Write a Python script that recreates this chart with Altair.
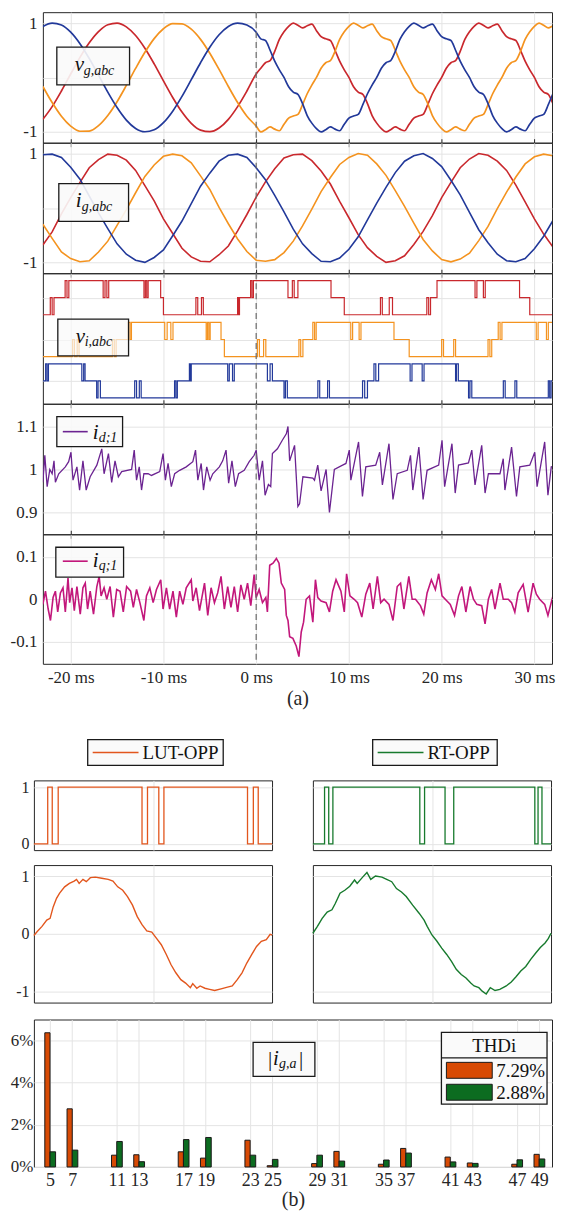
import altair as alt
import pandas as pd

FONT = "Liberation Serif"
INK = "#262626"
GRIDC = "#e4e4e4"
C_RED = "#c9282d"
C_ORANGE = "#f4931f"
C_BLUE = "#22399a"
C_PURPLE = "#6b2391"
C_MAGENTA = "#c2177b"
C_LUT = "#e2561d"
C_RT = "#177a2d"
C_BAR_LUT = "#d84a04"
C_BAR_RT = "#0c6c20"

# ------------------------------------------------------------------ data (a)
XT = [-20, -10, 0, 10, 20, 30]
T_PRE = [-23, -22, -21, -20, -19, -18, -17, -16, -15, -14, -13, -12, -11, -10,
         -9, -8, -7, -6, -5, -4, -3, -2, -1, 0]
T_POST = [0.5, 1.0, 1.5, 2.0, 2.5, 3.0, 3.5, 4.0, 4.5, 5.0, 5.5, 6.0, 6.5, 7.0,
          7.5, 8.0, 8.5, 9.0, 9.5, 10.0, 10.5, 11.0, 11.5, 12.0, 12.5, 13.0,
          13.5, 14.0, 14.5, 15.0, 15.5, 16.0, 16.5, 17.0, 17.5, 18.0, 18.5,
          19.0, 19.5, 20.0, 20.5, 21.0, 21.5, 22.0, 22.5, 23.0, 23.5, 24.0,
          24.5, 25.0, 25.5, 26.0, 26.5, 27.0, 27.5, 28.0, 28.5, 29.0, 29.5,
          30.0, 30.5, 31.0, 31.5, 32.0, 32.5, 33.0]

VG_RED_PRE = [-0.770, -0.536, -0.249, 0.063, 0.368, 0.637, 0.844, 0.969, 0.998, 0.930,
              0.770, 0.536, 0.249, -0.063, -0.368, -0.637, -0.844, -0.969, -0.998, -0.930,
              -0.770, -0.536, -0.249, 0.063]
VG_ORANGE_PRE = [-0.166, -0.462, -0.714, -0.895, -0.989, -0.986, -0.887, -0.700, -0.446, -0.147,
                 0.166, 0.462, 0.714, 0.895, 0.989, 0.986, 0.887, 0.700, 0.446, 0.147,
                 -0.166, -0.462, -0.714, -0.895]
VG_BLUE_PRE = [0.938, 0.999, 0.963, 0.832, 0.620, 0.348, 0.041, -0.270, -0.554, -0.784,
               -0.938, -0.999, -0.963, -0.832, -0.620, -0.348, -0.041, 0.270, 0.554, 0.784,
               0.938, 0.999, 0.963, 0.832]
VG_RED_POST = [0.17, 0.27, 0.31, 0.48, 0.70, 0.84, 0.94, 1.00, 0.96, 0.91, 0.95, 0.98, 0.86,
               0.75, 0.71, 0.68, 0.50, 0.30, 0.14, 0.00, -0.17, -0.27, -0.31, -0.48, -0.70,
               -0.84, -0.94, -1.00, -0.96, -0.91, -0.95, -0.98, -0.86, -0.75, -0.71, -0.68,
               -0.50, -0.30, -0.14, 0.00, 0.17, 0.27, 0.31, 0.48, 0.70, 0.84, 0.94, 1.00,
               0.96, 0.91, 0.95, 0.98, 0.86, 0.75, 0.71, 0.68, 0.50, 0.30, 0.14, 0.00,
               -0.17, -0.27, -0.31, -0.48, -0.70, -0.84]
VG_ORANGE_POST = [-1.00, -0.96, -0.91, -0.95, -0.98, -0.86, -0.75, -0.71, -0.68, -0.50,
                  -0.30, -0.14, 0.00, 0.17, 0.27, 0.31, 0.48, 0.70, 0.84, 0.94, 1.00, 0.96,
                  0.91, 0.95, 0.98, 0.86, 0.75, 0.71, 0.68, 0.50, 0.30, 0.14, 0.00, -0.17,
                  -0.27, -0.31, -0.48, -0.70, -0.84, -0.94, -1.00, -0.96, -0.91, -0.95,
                  -0.98, -0.86, -0.75, -0.71, -0.68, -0.50, -0.30, -0.14, 0.00, 0.17, 0.27,
                  0.31, 0.48, 0.70, 0.84, 0.94, 1.00, 0.96, 0.91, 0.95, 0.98, 0.86]
VG_BLUE_POST = [0.71, 0.68, 0.50, 0.30, 0.14, 0.00, -0.17, -0.27, -0.31, -0.48, -0.70, -0.84,
                -0.94, -1.00, -0.96, -0.91, -0.95, -0.98, -0.86, -0.75, -0.71, -0.68, -0.50,
                -0.30, -0.14, 0.00, 0.17, 0.27, 0.31, 0.48, 0.70, 0.84, 0.94, 1.00, 0.96,
                0.91, 0.95, 0.98, 0.86, 0.75, 0.71, 0.68, 0.50, 0.30, 0.14, 0.00, -0.17,
                -0.27, -0.31, -0.48, -0.70, -0.84, -0.94, -1.00, -0.96, -0.91, -0.95, -0.98,
                -0.86, -0.75, -0.71, -0.68, -0.50, -0.30, -0.14, 0.00]

T_I = [-23, -22, -21, -20, -19, -18, -17, -16, -15, -14, -13, -12, -11, -10, -9, -8, -7,
       -6, -5, -4, -3, -2, -1, 0, 1, 2, 3, 4, 5, 6, 7, 8, 9, 10, 11, 12, 13, 14, 15, 16,
       17, 18, 19, 20, 21, 22, 23, 24, 25, 26, 27, 28, 29, 30, 31, 32, 33]
IG_RED = [-0.68, -0.44, -0.11, 0.19, 0.47, 0.74, 0.89, 0.99, 0.97, 0.88,
          0.69, 0.41, 0.13, -0.20, -0.47, -0.74, -0.90, -0.98, -0.99, -0.86,
          -0.70, -0.42, -0.12, 0.20, 0.48, 0.72, 0.92, 0.98, 0.99, 0.87,
          0.68, 0.44, 0.12, -0.18, -0.49, -0.73, -0.89, -1.00, -0.97, -0.88,
          -0.67, -0.43, -0.14, 0.19, 0.47, 0.74, 0.90, 1.00, 0.97, 0.86,
          0.69, 0.42, 0.11, -0.20, -0.48, -0.72, -0.91]
IG_ORANGE = [-0.30, -0.56, -0.81, -0.93, -0.99, -0.97, -0.81, -0.61, -0.32, -0.03,
             0.28, 0.58, 0.79, 0.95, 0.99, 0.96, 0.83, 0.59, 0.34, 0.01,
             -0.29, -0.57, -0.80, -0.96, -0.98, -0.95, -0.82, -0.61, -0.33, -0.02,
             0.30, 0.56, 0.80, 0.93, 1.00, 0.97, 0.81, 0.60, 0.32, 0.03,
             -0.28, -0.58, -0.79, -0.95, -0.99, -0.94, -0.83, -0.60, -0.34, -0.01,
             0.29, 0.57, 0.81, 0.94, 0.99, 0.96, 0.82]
IG_BLUE = [0.98, 0.99, 0.93, 0.75, 0.53, 0.22, -0.09, -0.38, -0.66, -0.85,
           -0.96, -1.00, -0.91, -0.77, -0.51, -0.24, 0.08, 0.40, 0.64, 0.86,
           0.97, 0.99, 0.93, 0.74, 0.52, 0.23, -0.07, -0.39, -0.66, -0.84,
           -0.98, -0.99, -0.92, -0.76, -0.53, -0.22, 0.09, 0.38, 0.65, 0.86,
           0.96, 1.00, 0.91, 0.76, 0.51, 0.24, -0.08, -0.40, -0.64, -0.85,
           -0.97, -0.99, -0.93, -0.75, -0.52, -0.23, 0.08]

VI_RED_T = [-23, -22.2, -22.0, -21.8, -20.6, -20.4, -20.2, -16.5, -16.3, -16.1, -15.9,
            -12.1, -11.95, -11.8, -11.65, -10.3, -10.0, -6.5, -6.3, -5.9, -5.7, -2.0,
            -1.9, -1.8, -0.6, -0.45, -0.3, 3.43, 3.9, 4.1, 4.5, 8.07, 9.5, 13.4, 13.6,
            14.35, 14.7, 18.4, 18.6, 18.8, 19.5, 23.6, 23.8, 24.5, 24.7, 28.4, 29.5, 33]
VI_RED_L = [-1, 0, -1, 0, 1, 0, 1, 0, 1, 0, 1, 0, 1, 0, 1, 0, -1, 0, -1, 0, -1, 0, -1, 0,
            1, 0, 1, 0, 1, 0, 1, 0, -1, 0, -1, 0, -1, 0, -1, 0, 1, 0, 1, 0, 1, 0, -1, -1]
VI_ORANGE_T = [-23, -19.8, -19.6, -19.3, -19.1, -15.5, -15.3, -15.1, -13.8, -13.6, -13.45,
               -9.86, -9.6, -9.2, -8.97, -5.39, -5.25, -5.1, -4.96, -3.79, -3.43, 0.14,
               0.35, 0.8, 1.04, 4.61, 4.8, 5.04, 6.11, 6.3, 6.47, 10.2, 10.4, 11.1, 11.3,
               14.86, 16.5, 20.0, 20.2, 21.3, 21.5, 25.0, 25.2, 25.4, 26.1, 26.3, 26.5,
               30.2, 30.4, 31.3, 31.5, 33]
VI_ORANGE_L = [-1, 0, -1, 0, -1, 0, -1, 0, 1, 0, 1, 0, 1, 0, 1, 0, 1, 0, 1, 0, -1, 0, -1,
               0, -1, 0, -1, 0, 1, 0, 1, 0, 1, 0, 1, 0, -1, 0, -1, 0, -1, 0, -1, 0, 1, 0,
               1, 0, 1, 0, 1, 1]
VI_BLUE_T = [-23, -22.7, -22.55, -22.4, -18.8, -18.6, -18.45, -17.2, -17.05, -16.8, -13.1,
             -12.9, -12.6, -12.4, -8.8, -8.65, -8.5, -7.2, -7.1, -7.0, -3.07, -2.9, -2.55,
             -2.36, 1.21, 1.5, 1.75, 3.0, 3.15, 3.36, 6.65, 6.85, 7.7, 7.9, 11.47, 11.7,
             12.0, 12.7, 12.9, 13.2, 16.6, 16.8, 17.9, 18.1, 21.5, 21.6, 21.8, 22.9, 23.05,
             23.25, 26.65, 26.85, 27.9, 28.1, 31.5, 31.65, 31.8, 32.7, 33]
VI_BLUE_L = [0, 1, 0, 1, 0, 1, 0, -1, 0, -1, 0, -1, 0, -1, 0, -1, 0, 1, 0, 1, 0, 1, 0, 1,
             0, 1, 0, -1, 0, -1, 0, -1, 0, -1, 0, -1, 0, 1, 0, 1, 0, 1, 0, 1, 0, 1, 0, -1,
             0, -1, 0, -1, 0, -1, 0, -1, 0, 1, 1]

ID_T = [-23.0, -22.79, -22.54, -22.25, -22.0, -21.8, -21.65, -21.29, -20.58, -20.22, -19.97,
        -19.75, -19.33, -19.04, -18.68, -18.33, -17.9, -17.18, -16.65, -16.4, -15.93, -15.58,
        -15.22, -14.86, -14.5, -13.43, -13.15, -12.9, -12.61, -12.36, -12.11, -11.65, -11.29,
        -10.4, -10.04, -9.79, -9.5, -9.15, -8.79, -8.25, -7.54, -6.83, -6.54, -6.29, -5.93,
        -5.68, -5.33, -4.97, -4.68, -3.97, -3.61, -3.25, -2.97, -2.61, -2.25, -1.9, -1.29,
        -0.75, -0.22, 0.0, 0.32, 0.68, 0.96, 1.32, 1.57, 1.75, 2.29, 2.82, 3.25, 3.43, 3.61,
        4.14, 4.5, 4.68, 5.04, 6.11, 6.29, 6.64, 7.0, 7.54, 7.9, 8.43, 9.32, 9.68, 10.04,
        10.21, 11.04, 11.46, 11.82, 12.89, 13.32, 13.61, 14.32, 14.75, 15.21, 16.29, 16.64,
        16.89, 17.54, 18.0, 18.43, 19.68, 20.04, 20.32, 21.11, 21.46, 21.82, 22.89, 23.25,
        23.6, 24.32, 24.68, 25.04, 26.29, 26.64, 26.82, 27.54, 28.07, 28.43, 29.5, 30.04,
        30.29, 31.11, 31.46, 31.82, 32.89, 33.0]
ID_V = [0.97, 1.033, 0.96, 1.0, 0.99, 1.02, 0.97, 0.99, 1.006, 1.018, 1.04, 0.975, 1.006,
        0.952, 1.02, 0.952, 0.983, 1.01, 1.048, 0.99, 1.037, 0.97, 1.02, 0.983, 0.995, 1.0,
        1.045, 0.975, 1.006, 0.952, 0.99, 0.99, 0.986, 0.995, 1.037, 0.975, 1.014, 0.96,
        0.99, 0.998, 1.006, 1.018, 1.045, 0.975, 1.014, 0.952, 1.006, 0.975, 0.99, 1.006,
        1.02, 1.045, 0.968, 1.02, 0.96, 0.99, 0.998, 1.018, 1.033, 1.045, 0.975, 1.02, 0.94,
        0.965, 0.96, 1.037, 1.048, 1.068, 1.083, 1.10, 1.02, 1.056, 0.914, 0.92, 0.983, 0.98,
        0.975, 1.01, 0.95, 1.0, 0.90, 1.0, 1.01, 1.014, 1.045, 0.975, 1.064, 0.937, 1.006,
        1.01, 1.04, 0.964, 1.06, 0.93, 0.99, 0.998, 1.033, 0.952, 1.052, 0.93, 0.998, 1.01,
        1.068, 0.96, 1.06, 0.945, 1.01, 1.015, 1.045, 0.964, 1.056, 0.945, 0.99, 0.99, 1.025,
        0.952, 1.052, 0.937, 1.006, 1.01, 1.04, 0.96, 1.064, 0.94, 1.006, 1.01, 1.01]

IQ_T = [-23.0, -22.72, -22.43, -22.18, -21.9, -21.65, -21.4, -21.11, -20.83, -20.58, -20.29,
        -20.11, -19.86, -19.61, -19.33, -18.97, -18.68, -18.43, -18.18, -17.9, -17.54, -17.18,
        -16.93, -16.72, -16.4, -16.11, -15.75, -15.4, -15.04, -14.68, -14.33, -13.97, -13.54,
        -13.25, -12.9, -12.54, -12.11, -11.83, -11.47, -11.11, -10.75, -10.29, -10.04, -9.68,
        -9.33, -8.97, -8.61, -8.25, -7.9, -7.54, -7.0, -6.83, -6.47, -6.11, -5.57, -5.22,
        -4.86, -4.5, -4.15, -3.79, -3.43, -3.07, -2.72, -2.36, -2.0, -1.65, -1.29, -0.93,
        -0.58, -0.22, 0.0, 0.32, 0.68, 1.04, 1.21, 1.46, 1.82, 2.18, 2.46, 2.71, 3.07, 3.25,
        3.43, 3.61, 3.96, 4.32, 4.61, 4.86, 5.11, 5.39, 5.75, 6.11, 6.39, 6.64, 7.0, 7.54,
        7.9, 8.25, 8.61, 9.14, 9.5, 9.75, 10.11, 10.57, 10.93, 11.39, 11.82, 12.25, 12.61,
        13.07, 13.43, 13.79, 14.32, 14.75, 15.21, 15.57, 15.93, 16.46, 16.82, 17.18, 17.71,
        18.07, 18.43, 18.89, 19.32, 19.68, 20.04, 20.57, 20.93, 21.39, 21.82, 22.18, 22.61,
        23.07, 23.43, 23.79, 24.32, 24.68, 25.04, 25.39, 25.75, 26.29, 26.64, 27.18, 27.54,
        27.89, 28.25, 28.79, 29.32, 29.86, 30.21, 30.57, 31.11, 31.46, 32.0, 32.36, 32.71, 33.0]
IQ_V = [-0.012, 0.019, -0.023, -0.05, 0.004, 0.019, -0.03, 0.015, 0.027, -0.03, 0.05, -0.008,
        0.027, -0.027, 0.03, -0.035, 0.027, 0.038, -0.023, 0.019, -0.035, 0.03, 0.054, 0.008,
        0.027, 0.0, 0.03, -0.042, 0.023, 0.019, -0.03, 0.03, 0.019, -0.019, 0.023, -0.008,
        -0.05, 0.008, 0.027, -0.008, 0.023, 0.046, -0.023, 0.027, -0.023, 0.019, -0.042,
        0.019, -0.012, 0.027, 0.046, -0.004, 0.027, -0.027, 0.038, -0.038, 0.027, -0.008,
        0.015, 0.054, -0.023, 0.03, -0.019, 0.03, -0.03, 0.034, 0.0, 0.038, -0.015, 0.058,
        0.004, 0.023, -0.008, 0.004, -0.03, 0.08, 0.085, 0.096, 0.085, 0.038, 0.023, -0.038,
        -0.05, -0.088, -0.092, -0.11, -0.135, -0.077, -0.054, 0.0, 0.008, -0.054, 0.046,
        0.004, -0.004, -0.008, -0.03, 0.019, 0.046, 0.019, -0.03, 0.06, 0.008, 0.0, -0.008,
        -0.042, 0.012, 0.038, -0.023, 0.054, -0.008, 0.0, -0.012, -0.05, 0.03, 0.038, -0.023,
        0.054, 0.0, 0.0, -0.015, -0.035, 0.015, 0.046, 0.023, 0.06, 0.008, -0.004, -0.012,
        -0.038, 0.008, 0.03, -0.03, 0.03, 0.0, -0.012, -0.015, -0.058, 0.0, 0.023, -0.023,
        0.038, 0.0, 0.0, -0.008, -0.03, 0.015, 0.035, -0.03, 0.038, 0.012, 0.0, -0.012,
        -0.038, 0.008, 0.019, -0.038, -0.015]

# ------------------------------------------------------------------ data (b)
SW_LUT_F = [0, 0.058, 0.077, 0.102, 0.454, 0.477, 0.5245, 0.546, 0.897, 0.9215, 0.942, 1.0]
SW_LUT_S = [0, 1, 0, 1, 0, 1, 0, 1, 0, 1, 0, 0]
SW_RT_F = [0, 0.049, 0.0665, 0.084, 0.449, 0.469, 0.555, 0.5915, 0.932, 0.9455, 0.962, 1.0]
SW_RT_S = [0, 1, 0, 1, 0, 1, 0, 1, 0, 1, 0, 0]

LUT_I_F = [0, 0.014, 0.034, 0.054, 0.068, 0.081, 0.095, 0.108, 0.129, 0.149, 0.169, 0.179,
           0.19, 0.206, 0.22, 0.237, 0.258, 0.285, 0.312, 0.332, 0.352, 0.373, 0.393, 0.414,
           0.434, 0.454, 0.474, 0.495, 0.515, 0.535, 0.556, 0.576, 0.596, 0.617, 0.637,
           0.657, 0.667, 0.684, 0.698, 0.718, 0.738, 0.759, 0.786, 0.813, 0.833, 0.854,
           0.874, 0.894, 0.915, 0.935, 0.955, 0.976, 0.992, 1.0]
LUT_I_V = [-0.03, 0.04, 0.13, 0.24, 0.27, 0.47, 0.62, 0.71, 0.82, 0.88, 0.92, 0.95, 0.88,
           0.95, 0.91, 0.98, 0.99, 0.97, 0.95, 0.92, 0.82, 0.76, 0.65, 0.50, 0.30, 0.16,
           0.05, 0.03, -0.08, -0.19, -0.36, -0.54, -0.68, -0.80, -0.86, -0.94, -0.87, -0.95,
           -0.91, -0.95, -0.97, -0.99, -0.96, -0.93, -0.91, -0.80, -0.68, -0.51, -0.36,
           -0.22, -0.13, -0.10, -0.01, -0.02]
RT_I_F = [0, 0.019, 0.039, 0.06, 0.08, 0.094, 0.114, 0.134, 0.155, 0.175, 0.186, 0.209,
          0.227, 0.243, 0.263, 0.29, 0.31, 0.331, 0.351, 0.372, 0.392, 0.419, 0.446, 0.467,
          0.48, 0.5, 0.521, 0.541, 0.562, 0.582, 0.602, 0.623, 0.643, 0.663, 0.677, 0.697,
          0.711, 0.728, 0.745, 0.765, 0.785, 0.812, 0.833, 0.853, 0.873, 0.894, 0.914,
          0.935, 0.955, 0.975, 0.989, 1.0]
RT_I_V = [0.01, 0.13, 0.27, 0.38, 0.42, 0.53, 0.71, 0.76, 0.83, 0.94, 0.88, 0.99, 1.07,
          0.95, 1.01, 0.99, 0.95, 0.91, 0.79, 0.73, 0.65, 0.50, 0.36, 0.24, 0.13, -0.02,
          -0.13, -0.25, -0.36, -0.48, -0.62, -0.71, -0.77, -0.86, -0.91, -0.94, -1.00,
          -1.05, -0.94, -0.99, -0.97, -0.91, -0.84, -0.75, -0.65, -0.57, -0.45, -0.34,
          -0.24, -0.16, -0.08, 0.01]

HARM = [5, 7, 11, 13, 17, 19, 23, 25, 29, 31, 35, 37, 41, 43, 47, 49]
LUT_PCT = [6.37, 2.76, 0.56, 0.58, 0.72, 0.42, 1.27, 0.06, 0.16, 0.74, 0.13, 0.88, 0.47,
           0.19, 0.13, 0.60]
RT_PCT = [0.72, 0.80, 1.21, 0.25, 1.30, 1.40, 0.56, 0.36, 0.56, 0.28, 0.33, 0.66, 0.24,
          0.17, 0.34, 0.38]
THD_LABELS = ["7.29%", "2.88%"]


# ------------------------------------------------------------------ helpers
def rows(ts, vs, **extra):
    assert len(ts) == len(vs), (len(ts), len(vs))
    return [dict(t=a, v=b, **extra) for a, b in zip(ts, vs)]


ONE = alt.Data(values=[{"k": 0}])
XS = alt.Scale(domain=[-23, 31.9], nice=False, zero=False)
PH_SCALE = alt.Scale(domain=["a", "b", "c"], range=[C_RED, C_ORANGE, C_BLUE])
EXPR_INT = "datum.value == 0 ? '' : (datum.value < 0 ? '-' : '') + abs(datum.value)"


def x_axis(orient, grid=False, labels=False, ticks=True, title=None):
    kw = dict(orient=orient, values=XT, grid=grid, labels=labels, ticks=ticks,
              domain=False, title=title, labelFont=FONT, titleFont=FONT)
    if ticks:
        kw.update(tickSize=4, tickColor=INK, tickWidth=1)
    if labels:
        kw.update(labelExpr="(datum.value < 0 ? '-' : '') + abs(datum.value) + ' ms'",
                  labelFontSize=17, labelPadding=6, titleFontSize=20, titlePadding=3)
    return alt.Axis(**kw)


def y_axis(values, expr=None, size=17, labels=True, pad=6):
    kw = dict(values=values, grid=True, ticks=False, domain=False, title=None,
              labels=labels, labelFontSize=size, labelPadding=pad, labelFont=FONT)
    if expr:
        kw["labelExpr"] = expr
    return alt.Axis(**kw)


def box(x0, x1, y0, y1, op=0.9):
    return alt.Chart(ONE).mark_rect(fill="#fafafa", fillOpacity=op, stroke="#1a1a1a",
                                    strokeWidth=1.3).encode(
        x=alt.value(x0), x2=alt.value(x1), y=alt.value(y0), y2=alt.value(y1))


def txt(s, x, y, size, italic=True, align="left"):
    return alt.Chart(ONE).mark_text(text=s, font=FONT, fontSize=size, align=align,
                                    fontStyle="italic" if italic else "normal",
                                    baseline="alphabetic", color="#111111").encode(
        x=alt.value(x), y=alt.value(y))


def hline(x0, x1, y, color, w=1.6):
    return alt.Chart(ONE).mark_rule(color=color, strokeWidth=w).encode(
        x=alt.value(x0), x2=alt.value(x1), y=alt.value(y))


def zero_rule(top=True):
    ax = x_axis("top") if top else None
    return alt.Chart(alt.Data(values=[{"t": 0}])).mark_rule(
        strokeDash=[6, 4], color="#6a6a6a", strokeWidth=1.2).encode(
        x=alt.X("t:Q", scale=XS, axis=ax))


def spacer():
    return alt.Chart(ONE).mark_rule(opacity=0).encode(
        x=alt.value(0), y=alt.value(0), y2=alt.value(1)
    ).properties(width=1, height=1, view=alt.ViewBackground(strokeOpacity=0))


W_A = 511

# ------------------------------------------------------------------ panel 1
df_vg = pd.DataFrame(
    rows(T_PRE, VG_RED_PRE, ph="a") + rows(T_POST, VG_RED_POST, ph="a")
    + rows(T_PRE, VG_ORANGE_PRE, ph="b") + rows(T_POST, VG_ORANGE_POST, ph="b")
    + rows(T_PRE, VG_BLUE_PRE, ph="c") + rows(T_POST, VG_BLUE_POST, ph="c"))
p1_lines = alt.Chart(df_vg).mark_line(strokeWidth=1.7, interpolate="monotone", clip=True).encode(
    x=alt.X("t:Q", scale=XS, axis=x_axis("bottom", grid=True)),
    y=alt.Y("v:Q", scale=alt.Scale(domain=[-1.2, 1.2], nice=False, zero=False),
            axis=y_axis([-1, 0, 1], EXPR_INT)),
    color=alt.Color("ph:N", scale=PH_SCALE, legend=None))
P1 = alt.layer(p1_lines, zero_rule(top=False), box(14, 87, 35, 73),
               txt("v", 32, 59, 21), txt("g,abc", 41, 63, 14)
               ).resolve_axis(x="independent").properties(width=W_A, height=131)

# ------------------------------------------------------------------ panel 2
df_ig = pd.DataFrame(rows(T_I, IG_RED, ph="a") + rows(T_I, IG_ORANGE, ph="b")
                     + rows(T_I, IG_BLUE, ph="c"))
p2_lines = alt.Chart(df_ig).mark_line(strokeWidth=1.6, clip=True).encode(
    x=alt.X("t:Q", scale=XS, axis=x_axis("bottom", grid=True)),
    y=alt.Y("v:Q", scale=alt.Scale(domain=[-1.2, 1.2], nice=False, zero=False),
            axis=y_axis([-1, 0, 1], EXPR_INT)),
    color=alt.Color("ph:N", scale=PH_SCALE, legend=None))
P2 = alt.layer(p2_lines, zero_rule(), box(16, 86, 41, 79),
               txt("i", 33, 65, 21), txt("g,abc", 39, 69, 14)
               ).resolve_axis(x="independent").properties(width=W_A, height=131)

# ------------------------------------------------------------------ panel 3
VI_OFFSET = {"a": 2.45, "b": 0.0, "c": -2.42}
vi_rows = (rows(VI_RED_T, VI_RED_L, ph="a") + rows(VI_ORANGE_T, VI_ORANGE_L, ph="b")
           + rows(VI_BLUE_T, VI_BLUE_L, ph="c"))
df_vi = pd.DataFrame(vi_rows)
df_vi["y"] = df_vi["v"] + df_vi["ph"].map(VI_OFFSET)
p3_lines = alt.Chart(df_vi).mark_line(strokeWidth=1.2, interpolate="step-after", clip=True).encode(
    x=alt.X("t:Q", scale=XS, axis=x_axis("bottom", grid=True)),
    y=alt.Y("y:Q", scale=alt.Scale(domain=[-3.76, 3.88], nice=False, zero=False),
            axis=y_axis([2.45, 0, -2.42], labels=False)),
    color=alt.Color("ph:N", scale=PH_SCALE, legend=None))
P3 = alt.layer(p3_lines, zero_rule(), box(15, 86, 46, 83, op=0.7),
               txt("v", 33, 70, 21), txt("i,abc", 42, 73, 14)
               ).resolve_axis(x="independent").properties(width=W_A, height=131)

# ------------------------------------------------------------------ panel 4
df_id = pd.DataFrame(rows(ID_T, ID_V))
p4_line = alt.Chart(df_id).mark_line(strokeWidth=1.3, color=C_PURPLE, clip=True).encode(
    x=alt.X("t:Q", scale=XS, axis=x_axis("bottom", grid=True)),
    y=alt.Y("v:Q", scale=alt.Scale(domain=[0.849, 1.153], nice=False, zero=False),
            axis=y_axis([0.9, 1.0, 1.1],
                        "datum.value == 1 ? '1' : format(datum.value, '.1f')")))
P4 = alt.layer(p4_line, zero_rule(), box(14, 80, 13, 43), hline(20, 45, 28, C_PURPLE),
               txt("i", 50, 35, 21), txt("d;1", 56, 38, 14)
               ).resolve_axis(x="independent").properties(width=W_A, height=131)

# ------------------------------------------------------------------ panel 5
df_iq = pd.DataFrame(rows(IQ_T, IQ_V))
p5_line = alt.Chart(df_iq).mark_line(strokeWidth=1.6, color=C_MAGENTA, clip=True).encode(
    x=alt.X("t:Q", scale=XS, axis=x_axis("bottom", grid=True, labels=True, ticks=False,
                                          title="(a)")),
    y=alt.Y("v:Q", scale=alt.Scale(domain=[-0.152, 0.153], nice=False, zero=False),
            axis=y_axis([-0.1, 0, 0.1],
                        "datum.value == 0 ? '0' : (datum.value < 0 ? '-' : '') + format(abs(datum.value), '.1f')")))
P5 = alt.layer(p5_line, zero_rule(), box(13, 81, 13, 43), hline(20, 45, 27, C_MAGENTA),
               txt("i", 50, 33, 21), txt("q;1", 56, 36, 14)
               ).resolve_axis(x="independent").properties(width=W_A, height=130)

PART_A = alt.vconcat(P1, P2, P3, P4, P5, spacing=0, bounds="flush")

# ------------------------------------------------------------------ part (b) panels
FS = alt.Scale(domain=[0, 1], nice=False, zero=False)
EXPR_PLAIN = "(datum.value < 0 ? '-' : '') + abs(datum.value)"
W_B = 239


def f_axis():
    return alt.Axis(values=[0.5], grid=True, labels=False, ticks=False, domain=False, title=None)


def switch_panel(fs, ss, color, left, name, lx0, lx1, tx):
    df = pd.DataFrame({"f": fs, "s": ss})
    line = alt.Chart(df).mark_line(interpolate="step-after", color=color, strokeWidth=1.3).encode(
        x=alt.X("f:Q", scale=FS, axis=f_axis()),
        y=alt.Y("s:Q", scale=alt.Scale(domain=[-0.11, 1.12], nice=False, zero=False),
                axis=y_axis([0, 1], EXPR_PLAIN, size=16, labels=left, pad=5)))
    return alt.layer(line, box(lx0, lx1, -41, -15, op=1.0),
                     hline(lx0 + 5, lx0 + 51, -28, color, w=1.4),
                     txt(name, tx, -21, 19, italic=False)
                     ).properties(width=W_B, height=70)


def current_panel(fs, vs, color, left):
    df = pd.DataFrame({"f": fs, "i": vs})
    return alt.Chart(df).mark_line(color=color, strokeWidth=1.4).encode(
        x=alt.X("f:Q", scale=FS, axis=f_axis()),
        y=alt.Y("i:Q", scale=alt.Scale(domain=[-1.2, 1.2], nice=False, zero=False),
                axis=y_axis([-1, 0, 1], EXPR_PLAIN, size=16, labels=left, pad=5))
    ).properties(width=W_B, height=138)


SW_L = switch_panel(SW_LUT_F, SW_LUT_S, C_LUT, True, "LUT-OPP", 54, 190, 109)
SW_R = switch_panel(SW_RT_F, SW_RT_S, C_RT, False, "RT-OPP", 60, 185, 115)
CU_L = current_panel(LUT_I_F, LUT_I_V, C_LUT, True)
CU_R = current_panel(RT_I_F, RT_I_V, C_RT, False)
GRID_B = alt.concat(SW_L, SW_R, CU_L, CU_R, columns=2, bounds="flush",
                    spacing={"row": 15, "column": 41})

# ------------------------------------------------------------------ bar chart
BXS = alt.Scale(domain=[3.55, 50.15], nice=False, zero=False)
bar_rows = []
for h, a, b in zip(HARM, LUT_PCT, RT_PCT):
    bar_rows.append({"h": h, "pct": a, "m": "LUT", "x0": h - 0.47, "x1": h})
    bar_rows.append({"h": h, "pct": b, "m": "RT", "x0": h, "x1": h + 0.5})
df_bar = pd.DataFrame(bar_rows)

bars = alt.Chart(df_bar).mark_bar(stroke="#1a1a1a", strokeWidth=1).encode(
    x=alt.X("x0:Q", scale=BXS,
            axis=alt.Axis(values=HARM, grid=True, ticks=False, domain=False, labelFontSize=18,
                          labelPadding=5, title="(b)", titleFontSize=20, titlePadding=0,
                          labelFont=FONT, titleFont=FONT)),
    x2="x1:Q",
    y=alt.Y("pct:Q", scale=alt.Scale(domain=[0, 7], nice=False, zero=True),
            axis=alt.Axis(values=[0, 2, 4, 6], labelExpr="datum.value + '%'", grid=True,
                          ticks=False, domain=False, title=None, labelFontSize=17,
                          labelPadding=1, labelFont=FONT)),
    y2=alt.datum(0),
    color=alt.Color("m:N", scale=alt.Scale(domain=["LUT", "RT"], range=[C_BAR_LUT, C_BAR_RT]),
                    legend=None))
swatch_o = alt.Chart(ONE).mark_rect(fill=C_BAR_LUT, stroke="#1a1a1a", strokeWidth=1).encode(
    x=alt.value(414), x2=alt.value(460), y=alt.value(43), y2=alt.value(59))
swatch_g = alt.Chart(ONE).mark_rect(fill=C_BAR_RT, stroke="#1a1a1a", strokeWidth=1).encode(
    x=alt.value(414), x2=alt.value(460), y=alt.value(65), y2=alt.value(81))
BAR = alt.layer(
    bars,
    box(220, 282, 23, 57, op=1.0),
    txt("|", 235, 47, 21, italic=False), txt("i", 240, 46, 21), txt("g,a", 246, 49, 14),
    txt("|", 266, 47, 21, italic=False),
    box(409, 515, 13, 85, op=1.0),
    hline(409, 515, 38.5, "#1a1a1a", w=1.1),
    txt("THDi", 462, 33, 19, italic=False, align="center"),
    swatch_o, swatch_g,
    txt(THD_LABELS[0], 464, 58, 19, italic=False),
    txt(THD_LABELS[1], 464, 80, 19, italic=False),
).properties(width=520, height=148)

PART_B = alt.vconcat(GRID_B, BAR, spacing=15)

A_WRAP = alt.hconcat(spacer(), PART_A, spacing=0)
B_WRAP = alt.hconcat(spacer(), PART_B, spacing=0)

chart = alt.vconcat(A_WRAP, B_WRAP, spacing=28).resolve_scale(
    color="independent"
).properties(
    padding=0, background="white"
).configure(font=FONT).configure_view(stroke=INK, strokeWidth=1).configure_axis(
    labelFont=FONT, labelColor=INK, titleFont=FONT, titleColor=INK,
    titleFontWeight="normal", gridColor=GRIDC, gridWidth=1)

chart.save("out.html", embed_options={"renderer": "svg", "actions": False})
